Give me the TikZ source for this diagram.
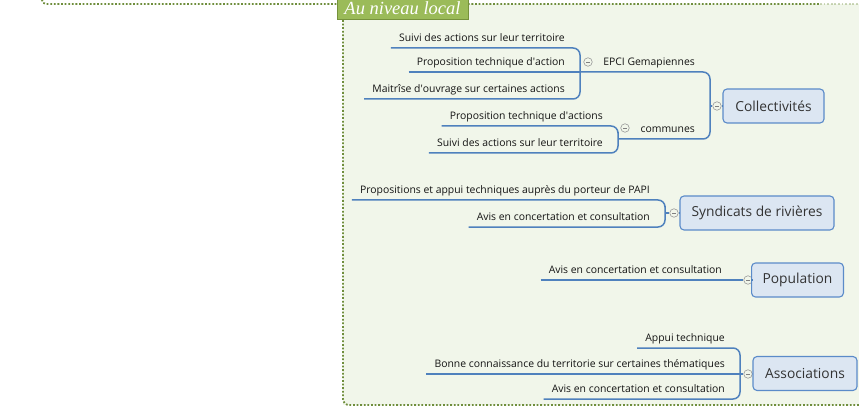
\documentclass[tikz,border=0pt]{standalone}
\usepackage{fontspec}
\setmainfont{Open Sans}
\newfontfamily\titlefont{Liberation Serif}
\usepackage{tikz}
\usetikzlibrary{positioning,calc}
\definecolor{framefill}{HTML}{F1F6EA}
\definecolor{framedot}{HTML}{6F8E3C}
\definecolor{titlefill}{HTML}{9BBB59}
\definecolor{titleedge}{HTML}{76923C}
\definecolor{topicfill}{HTML}{DCE6F2}
\definecolor{topicedge}{HTML}{5B8BC9}
\definecolor{branchblue}{HTML}{4F81BD}
\tikzset{
  topic/.style={draw=topicedge, fill=topicfill, rounded corners=4pt, line width=1.1pt,
    minimum height=34pt, inner xsep=11pt, font=\fontsize{13.8}{16}\selectfont, text=black!80},
  sub/.style={anchor=south east, inner xsep=8pt, inner ysep=0pt, text height=9pt, text depth=6.5pt,
    font=\fontsize{10.4}{12}\selectfont, text=black!92},
  branch/.style={draw=branchblue, line width=1.5pt, rounded corners=7pt},
  fold/.style={circle, draw=black!40, fill=framefill, line width=0.6pt, minimum size=8.5pt, inner sep=0pt,
    path picture={\draw[black!50, line width=0.6pt]
      ([xshift=-2pt]path picture bounding box.center) -- ([xshift=2pt]path picture bounding box.center);}},
  dots/.style={draw=framedot, line width=1.8pt, dash pattern=on 1.8pt off 1.8pt},
  titlebox/.style={draw=titleedge, fill=titlefill, line width=1pt, minimum width=131pt, minimum height=23pt,
    inner sep=0pt, font=\titlefont\itshape\fontsize{18.5}{20}\selectfont, text=white},
}
\newcommand{\apos}{\textquotesingle}

\begin{document}
\begin{tikzpicture}[x=1pt, y=-1pt]
\useasboundingbox (0,0) rectangle (859,414);

%% =====================================================================
%% Frames
%% =====================================================================
\fill[framefill] (343,4) rectangle (862,405);
\draw[dots, rounded corners=4pt] (42,-4) |- (820,4);
\draw[dots, opacity=0.35] (820,4) -- (862,4);
\draw[dots, rounded corners=6pt] (343,20) |- (862,405);

\node[titlebox] (t_local) at (402.5,8.5) {Au niveau local};

%% =====================================================================
%% Collectivités
%% =====================================================================
\node[sub] (e_suivi) at (573,48) {Suivi des actions sur leur territoire};
\node[sub] (e_prop) at (573,72) {Proposition technique d\apos action};
\node[sub] (e_moa) at (573,99) {Maitrîse d\apos ouvrage sur certaines actions};
\coordinate (j_epci) at (580,72);
\node[fold] (k_epci) at (588,62) {};
\node[sub] (n_epci) at (703,72) {EPCI Gemapiennes};

\node[sub] (m_prop) at (611,126) {Proposition technique d\apos actions};
\node[sub] (m_suivi) at (611,153) {Suivi des actions sur leur territoire};
\coordinate (j_comm) at (618,139);
\node[fold] (k_comm) at (625,128) {};
\node[sub] (n_comm) at (703,139) {communes};

\coordinate (j_coll) at (710,106);
\node[fold] (k_coll) at (717,106) {};
\node[topic, minimum width=101pt] (coll) at (773.5,106) {Collectivités};

\draw[branch] (e_suivi.south west) -| (j_epci) |- (e_moa.south west);
\draw[branch] (e_prop.south west) -- (j_epci);
\draw[branch] (m_prop.south west) -| (j_comm) |- (m_suivi.south west);
\draw[branch] (j_epci) -| (j_coll) |- (j_comm);
\draw[branch] (j_coll) -- (k_coll);
\draw[branch] (k_coll) -- (coll);

%% =====================================================================
%% Syndicats de rivières
%% =====================================================================
\node[sub] (s_prop) at (658,200) {Propositions et appui techniques auprès du porteur de PAPI};
\node[sub] (s_avis) at (658,227) {Avis en concertation et consultation};
\coordinate (j_synd) at (665,213);
\node[fold] (k_synd) at (674,213) {};
\node[topic, minimum width=154pt] (synd) at (757,213) {Syndicats de rivières};

\draw[branch] (s_prop.south west) -| (j_synd) |- (s_avis.south west);
\draw[branch] (j_synd) -- (k_synd);
\draw[branch] (k_synd) -- (synd);

%% =====================================================================
%% Population
%% =====================================================================
\node[sub] (p_avis) at (730,280) {Avis en concertation et consultation};
\node[fold] (k_pop) at (748,280) {};
\node[topic, minimum width=91pt] (pop) at (797.5,280) {Population};

\draw[branch] (p_avis.south west) -- (k_pop);
\draw[branch] (k_pop) -- (pop);

%% =====================================================================
%% Associations
%% =====================================================================
\node[sub] (a_appui) at (733,348) {Appui technique};
\node[sub] (a_bonne) at (733,374) {Bonne connaissance du territorie sur certaines thématiques};
\node[sub] (a_avis) at (733,399) {Avis en concertation et consultation};
\coordinate (j_assoc) at (740,374);
\node[fold] (k_assoc) at (748,374) {};
\node[topic, minimum width=104pt] (assoc) at (805,373.5) {Associations};

\draw[branch] (a_appui.south west) -| (j_assoc) |- (a_avis.south west);
\draw[branch] (a_bonne.south west) -- (j_assoc);
\draw[branch] (j_assoc) -- (k_assoc);
\draw[branch] (k_assoc) -- (assoc);

\end{tikzpicture}
\end{document}
